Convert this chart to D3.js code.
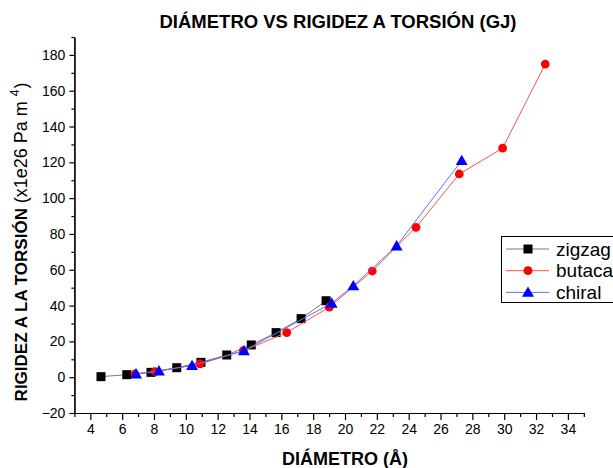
<!DOCTYPE html>
<html>
<head>
<meta charset="utf-8">
<script src="https://cdn.jsdelivr.net/npm/d3@7"></script>
<style>
  body { margin: 0; background: #fff; }
  svg { display: block; font-family: "Liberation Sans", Arial, sans-serif; }
</style>
</head>
<body>
<div id="chart"></div>
<script>
// data
const zigzagD = [4.67, 6.29, 7.81, 9.43, 10.95, 12.57, 14.11, 15.67, 17.24, 18.81]
const zigzagGJ = [0.3, 1.4, 2.7, 5.3, 8.3, 12.4, 18.0, 24.9, 32.7, 42.7]
const butacaD = [6.81, 8.06, 10.89, 13.61, 16.34, 19.01, 21.71, 24.46, 27.18, 29.90, 32.58]
const butacaGJ = [1.8, 3.1, 7.4, 14.8, 24.9, 39.1, 59.3, 83.7, 113.5, 127.9, 174.9]
const chiralD = [6.87, 8.31, 10.39, 13.65, 19.16, 20.52, 23.24, 27.33]
const chiralGJ = [1.8, 3.5, 6.5, 14.8, 41.3, 51.0, 73.3, 121.0]

const seriesNames = ["zigzag", "butaca", "chiral"]
const xTicks = d3.range(4, 35, 2)
const xMinor = d3.range(3, 36, 2)
const yTicks = d3.range(-20, 181, 20)
const yMinor = d3.range(-10, 191, 20)

const series = [
  { name: seriesNames[0], xs: zigzagD, ys: zigzagGJ, line: "#7a7a7a", fill: "#000", sym: d3.symbolSquare, size: 81 },
  { name: seriesNames[1], xs: butacaD, ys: butacaGJ, line: "#ff5050", fill: "#ff0000", sym: d3.symbolCircle, size: 60 },
  { name: seriesNames[2], xs: chiralD, ys: chiralGJ, line: "#6a6aff", fill: "#0000ff", sym: d3.symbolTriangle, size: 62 },
]

const width = 613
const height = 468
const plot = { left: 74.4, right: 583.8, top: 37, bottom: 413 }

const svg = d3.select("#chart").append("svg")
  .attr("width", width)
  .attr("height", height)

const xScale = d3.scaleLinear().domain([3, 35]).range([plot.left, plot.right])
const yScale = d3.scaleLinear().domain([-20, 190]).range([plot.bottom, plot.top])

// axes
svg.append("g")
  .attr("transform", `translate(0,${plot.bottom})`)
  .call(d3.axisBottom(xScale).tickValues(xTicks).tickSize(7).tickSizeOuter(0).tickPadding(4))
svg.append("g")
  .attr("transform", `translate(0,${plot.bottom})`)
  .call(d3.axisBottom(xScale).tickValues(xMinor).tickSize(4).tickSizeOuter(0).tickFormat(""))

svg.append("g")
  .attr("transform", `translate(${plot.left},0)`)
  .call(d3.axisLeft(yScale).tickValues(yTicks).tickSize(5).tickSizeOuter(0).tickPadding(4))
svg.append("g")
  .attr("transform", `translate(${plot.left},0)`)
  .call(d3.axisLeft(yScale).tickValues(yMinor).tickSize(3).tickSizeOuter(0).tickFormat(""))

svg.selectAll(".domain, .tick line").attr("stroke", "#000").attr("stroke-width", 1.2)
svg.selectAll(".tick text")
  .attr("font-size", 14)
  .attr("font-family", "Liberation Sans, Arial, sans-serif")
  .attr("fill", "#000")

// series lines and markers
const line = d3.line().x((d) => xScale(d[0])).y((d) => yScale(d[1]))

series.forEach((s) => {
  const pts = s.xs.map((x, i) => [x, s.ys[i]])
  svg.append("path")
    .attr("d", line(pts))
    .attr("fill", "none")
    .attr("stroke", s.line)
    .attr("stroke-width", 1)
  svg.selectAll(null).data(pts).enter()
    .append("path")
    .attr("transform", (d) => `translate(${xScale(d[0])},${yScale(d[1]) + (s.sym === d3.symbolTriangle ? 1 : 0)})`)
    .attr("d", d3.symbol().type(s.sym).size(s.size))
    .attr("fill", s.fill)
})

// legend
const legend = svg.append("g")
legend.append("rect")
  .attr("x", 501.5).attr("y", 236.5)
  .attr("width", 130).attr("height", 66)
  .attr("fill", "#fff").attr("stroke", "#000").attr("stroke-width", 1)
series.forEach((s, i) => {
  const cy = 249 + i * 21.7
  legend.append("line")
    .attr("x1", 506).attr("x2", 549).attr("y1", cy).attr("y2", cy)
    .attr("stroke", s.line).attr("stroke-width", 1)
  legend.append("path")
    .attr("transform", `translate(528,${cy + (s.sym === d3.symbolTriangle ? 1 : 0)})`)
    .attr("d", d3.symbol().type(s.sym).size(s.size))
    .attr("fill", s.fill)
  legend.append("text")
    .attr("x", 556).attr("y", cy + 6.5)
    .attr("font-size", 19)
    .text(s.name)
})

// titles
svg.append("text")
  .attr("x", 338).attr("y", 28)
  .attr("text-anchor", "middle")
  .attr("font-size", 18.5).attr("font-weight", "bold")
  .text("DIÁMETRO VS RIGIDEZ A TORSIÓN (GJ)")

svg.append("text")
  .attr("x", 345).attr("y", 465)
  .attr("text-anchor", "middle")
  .attr("font-size", 18).attr("font-weight", "bold")
  .text("DIÁMETRO (Å)")

const yTitle = svg.append("text")
  .attr("transform", "translate(27,242) rotate(-90)")
  .attr("text-anchor", "middle")
  .attr("font-size", 17)
yTitle.append("tspan").attr("font-weight", "bold").text("RIGIDEZ A LA TORSIÓN ")
yTitle.append("tspan").attr("font-size", 18).text("(x1e26 Pa m ")
yTitle.append("tspan").attr("font-size", 12).attr("dy", -8).text("4")
yTitle.append("tspan").attr("font-size", 18).attr("dy", 8).attr("dx", 1).text(")")
</script>
</body>
</html>
